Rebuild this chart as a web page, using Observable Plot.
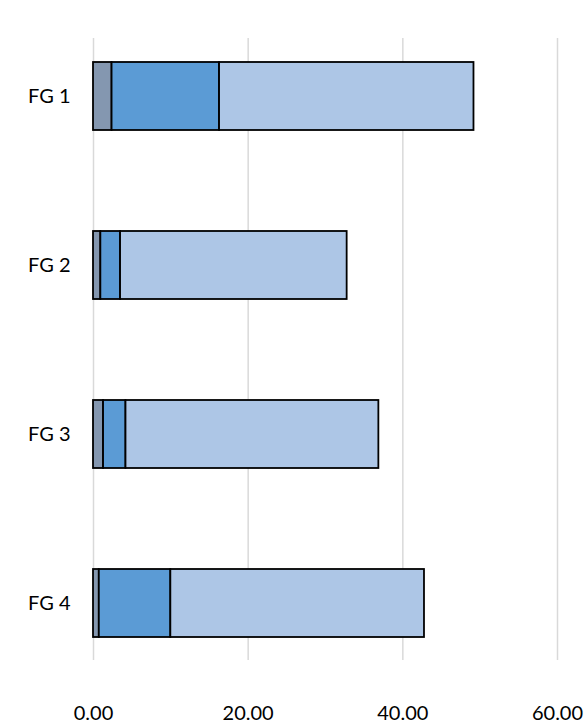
<!DOCTYPE html>
<html>
<head>
<meta charset="utf-8">
<script src="https://cdn.jsdelivr.net/npm/d3@7"></script>
<script src="https://cdn.jsdelivr.net/npm/@observablehq/plot@0.6"></script>
<style>
  html, body { margin: 0; padding: 0; background: #fff; }
  #chart svg { display: block; }
</style>
</head>
<body>
<div id="chart"></div>
<script>
const categories = ["FG 1", "FG 2", "FG 3", "FG 4"];
const seriesNames = ["Series 1", "Series 2", "Series 3"];
const series1 = [2.4, 0.95, 1.3, 0.75];
const series2 = [13.9, 2.55, 2.9, 9.25];
const series3 = [32.9, 29.3, 32.7, 32.8];
const seriesColors = ["#8497b0", "#5b9bd5", "#adc6e6"];
const xTicks = [0, 20, 40, 60];

const allSeries = [series1, series2, series3];
const rows = [];
categories.forEach((c, i) => {
  allSeries.forEach((s, j) => rows.push({category: c, series: seriesNames[j], value: s[i]}));
});

const chart = Plot.plot({
  width: 588,
  height: 723,
  marginTop: 38,
  marginBottom: 63,
  marginLeft: 93,
  marginRight: 31,
  style: {fontFamily: "Lato, 'Open Sans', sans-serif", fontSize: "20px", color: "#000", background: "#fff"},
  x: {domain: [0, 60], ticks: xTicks, tickFormat: d3.format(".2f")},
  y: {domain: categories, paddingInner: 0.6, paddingOuter: 0.14},
  color: {domain: seriesNames, range: seriesColors},
  marks: [
    Plot.gridX(xTicks, {stroke: "#d9d9d9", strokeOpacity: 1, strokeWidth: 1.5}),
    Plot.barX(rows, {x: "value", y: "category", fill: "series", stroke: "#000", strokeWidth: 1.8, order: seriesNames}),
    Plot.axisX(xTicks, {tickSize: 0, tickPadding: 45, tickFormat: d3.format(".2f"), fontSize: 20, label: null}),
    Plot.axisY({tickSize: 0, tickPadding: 23, fontSize: 20, label: null})
  ]
});
document.getElementById("chart").appendChild(chart);
</script>
</body>
</html>
